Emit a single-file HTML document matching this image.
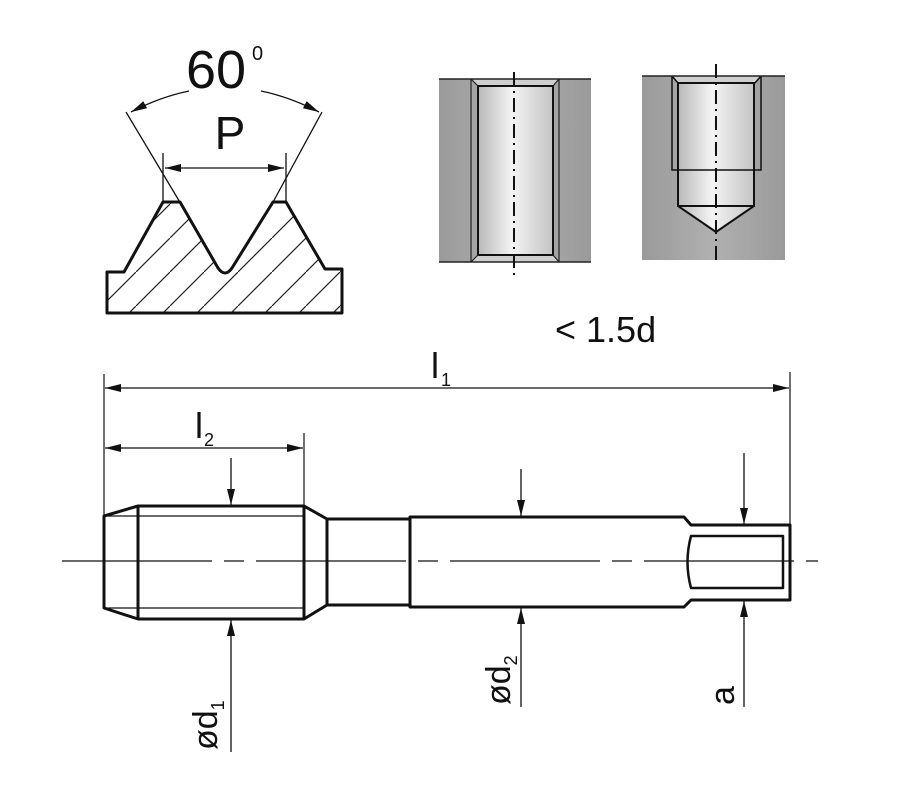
<!DOCTYPE html>
<html><head><style>
html,body{margin:0;padding:0;background:#fff;}
svg{display:block;font-family:"Liberation Sans",sans-serif;}
</style></head><body>
<svg width="913" height="786" viewBox="0 0 913 786" xmlns="http://www.w3.org/2000/svg">
<defs>
<pattern id="h" patternUnits="userSpaceOnUse" width="34" height="34">
<path d="M-2,36 L36,-2" stroke="#222" stroke-width="1.2"/>
</pattern>
<linearGradient id="bore" x1="0" x2="1" y1="0" y2="0">
<stop offset="0" stop-color="#b8b8b8"/><stop offset="0.45" stop-color="#f4f4f4"/><stop offset="1" stop-color="#c4c4c4"/>
</linearGradient>
<linearGradient id="blk" x1="0" x2="1">
<stop offset="0" stop-color="#9a9a9a"/><stop offset="0.5" stop-color="#b0b0b0"/><stop offset="1" stop-color="#9a9a9a"/>
</linearGradient>
<marker id="a" viewBox="0 0 16 8" refX="16" refY="4" markerWidth="16" markerHeight="8" markerUnits="userSpaceOnUse" orient="auto-start-reverse">
<path d="M0,0 L16,4 L0,8 z" fill="#111"/>
</marker>
</defs>

<path d="M107,272 L124,272 L163,202 L180,202 L218,268 Q225,278 232,268 L273,202 L286,202 L325,269 L342,269 L342,313 L107,313 Z" fill="url(#h)" stroke="none"/>
<path d="M107,313 L107,272 L124,272 L163,202 L180,202 L218,268 Q225,278 232,268 L273,202 L286,202 L325,269 L342,269 L342,313 Z" fill="none" stroke="#111" stroke-width="3" stroke-linejoin="round"/>
<line x1="126" y1="112" x2="181" y2="204" stroke="#111" stroke-width="1.3"/>
<line x1="322" y1="112" x2="272" y2="204" stroke="#111" stroke-width="1.3"/>
<line x1="163" y1="153" x2="163" y2="202" stroke="#111" stroke-width="1.3"/>
<line x1="286" y1="153" x2="286" y2="202" stroke="#111" stroke-width="1.3"/>
<line x1="165" y1="168" x2="284" y2="168" stroke="#111" stroke-width="1.3" marker-start="url(#a)" marker-end="url(#a)"/>
<path d="M189,91 Q160,97 131,112" fill="none" stroke="#111" stroke-width="1.3" marker-end="url(#a)"/>
<path d="M261,91 Q290,97 319,112" fill="none" stroke="#111" stroke-width="1.3" marker-end="url(#a)"/>
<text x="186" y="88" font-size="54" fill="#111">60</text>
<text x="252" y="60" font-size="20" fill="#111">0</text>
<text x="230" y="149" font-size="46" fill="#111" text-anchor="middle">P</text>

<rect x="439" y="79" width="152" height="183" fill="url(#blk)"/>
<path d="M471,79 L559,79 L553,86 L553,255 L559,262 L471,262 L478,255 L478,86 Z" fill="#cfcfcf"/>
<rect x="478" y="86" width="75" height="169" fill="url(#bore)" stroke="#111" stroke-width="2"/>
<path d="M471,79 L478,86 M559,79 L553,86 M471,262 L478,255 M559,262 L553,255 M471,79 L471,262 M559,79 L559,262" stroke="#222" stroke-width="1.2" fill="none"/>
<line x1="439" y1="79" x2="591" y2="79" stroke="#222" stroke-width="1.5"/>
<line x1="439" y1="262" x2="591" y2="262" stroke="#222" stroke-width="1.5"/>
<line x1="514" y1="72" x2="514" y2="275" stroke="#111" stroke-width="2" stroke-dasharray="14,5,2,5"/>

<rect x="642" y="76" width="143" height="184" fill="url(#blk)"/>
<path d="M672,76 L761,76 L755,83 L755,170 L678,170 L678,83 Z" fill="#cfcfcf"/>
<path d="M678,83 L754,83 L754,206 L716,232 L678,206 Z" fill="url(#bore)" stroke="#111" stroke-width="2"/>
<line x1="678" y1="206" x2="754" y2="206" stroke="#111" stroke-width="2"/>
<path d="M672,76 L672,170 L761,170 L761,76 M672,76 L678,83 M761,76 L755,83" fill="none" stroke="#111" stroke-width="1.5"/>
<line x1="642" y1="76" x2="785" y2="76" stroke="#222" stroke-width="1.5"/>
<line x1="716" y1="64" x2="716" y2="265" stroke="#111" stroke-width="2" stroke-dasharray="14,5,2,5"/>

<text x="555" y="342" font-size="36" fill="#111">&lt; 1.5d</text>

<line x1="104" y1="374" x2="104" y2="515" stroke="#111" stroke-width="1.2"/>
<line x1="790" y1="372" x2="790" y2="525" stroke="#111" stroke-width="1.2"/>
<line x1="304" y1="433" x2="304" y2="506" stroke="#111" stroke-width="1.2"/>
<line x1="105" y1="388" x2="789" y2="388" stroke="#111" stroke-width="1.3" marker-start="url(#a)" marker-end="url(#a)"/>
<line x1="105" y1="448" x2="303" y2="448" stroke="#111" stroke-width="1.3" marker-start="url(#a)" marker-end="url(#a)"/>
<text x="431" y="378" font-size="36" fill="#111">l</text>
<text x="441" y="386" font-size="18" fill="#111">1</text>
<text x="195" y="438" font-size="36" fill="#111">l</text>
<text x="204" y="446" font-size="18" fill="#111">2</text>

<line x1="62" y1="561" x2="818" y2="561" stroke="#111" stroke-width="1.2" stroke-dasharray="150,12,20,12"/>

<g fill="none" stroke="#111" stroke-width="3" stroke-linejoin="round">
<path d="M104,516 L138,506 L304,506 L327,519 L327,605 L304,619 L138,619 L104,608 Z"/>
<line x1="138" y1="506" x2="138" y2="619"/>
<line x1="304" y1="506" x2="304" y2="619"/>
<path d="M327,519 L410,519 L410,605 L327,605"/>
<path d="M410,517 L684,517 L691,525 L790,525 L790,600 L691,600 L684,607 L410,607 Z"/>
<path d="M691,536 L783,536 L783,588 L691,588 Q684,562 691,536 Z" stroke-width="2.5"/>
</g>
<line x1="104" y1="516" x2="304" y2="516" stroke="#111" stroke-width="1.2"/>
<line x1="104" y1="608" x2="304" y2="608" stroke="#111" stroke-width="1.2"/>

<g stroke="#111" stroke-width="1.3">
<line x1="231" y1="458" x2="231" y2="505" marker-end="url(#a)"/>
<line x1="231" y1="752" x2="231" y2="620" marker-end="url(#a)"/>
<line x1="521" y1="469" x2="521" y2="516" marker-end="url(#a)"/>
<line x1="521" y1="707" x2="521" y2="608" marker-end="url(#a)"/>
<line x1="744" y1="453" x2="744" y2="524" marker-end="url(#a)"/>
<line x1="744" y1="707" x2="744" y2="601" marker-end="url(#a)"/>
</g>
<text transform="translate(217,750) rotate(-90)" font-size="34" fill="#111">ød<tspan font-size="18" dy="7">1</tspan></text>
<text transform="translate(510,705) rotate(-90)" font-size="34" fill="#111">ød<tspan font-size="18" dy="7">2</tspan></text>
<text transform="translate(734,705) rotate(-90)" font-size="34" fill="#111">a</text>
</svg>
</body></html>
